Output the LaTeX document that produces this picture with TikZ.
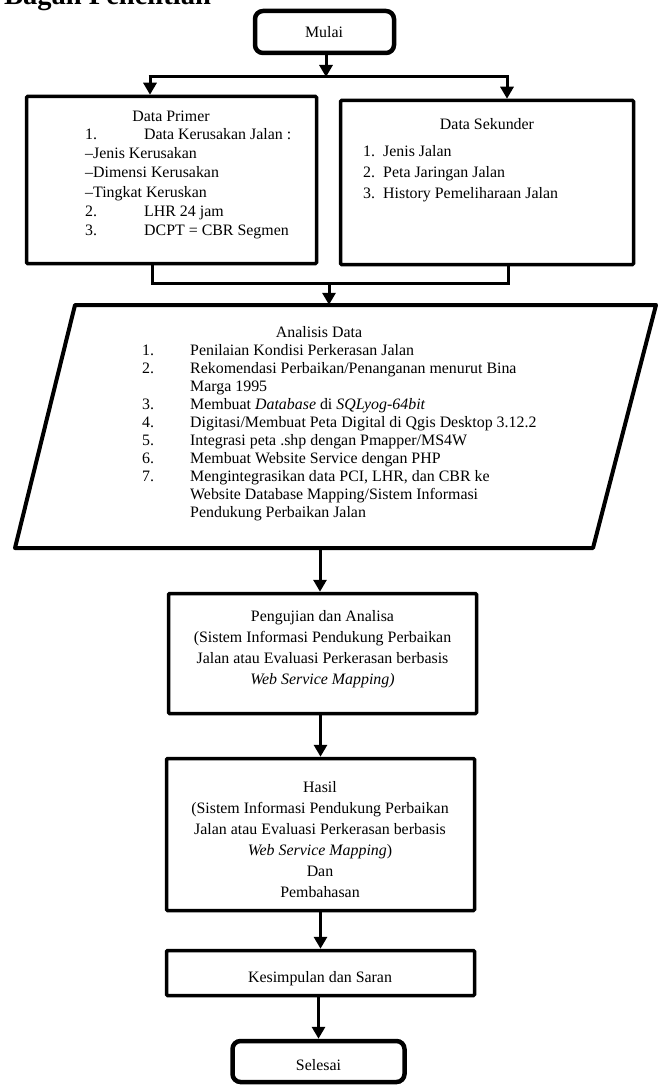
\documentclass[tikz,border=0pt]{standalone}
\usepackage{fontspec}
\setmainfont{Liberation Serif}
\usetikzlibrary{arrows.meta}
\begin{document}
\begin{tikzpicture}[x=1pt,y=-1pt,
  txt/.style={font=\fontsize{15.9pt}{19pt}\selectfont, inner sep=0pt, anchor=base west},
  ctr/.style={txt, anchor=base},
  box/.style={draw, line width=3.5pt, inner sep=0pt, rounded corners=1pt},
  term/.style={draw, line width=4.5pt, inner sep=0pt, rounded corners=8pt},
  ln/.style={line width=3pt},
  arr/.style={line width=3pt, -{Triangle[length=12pt,width=13pt]}}]
\useasboundingbox (0,0) rectangle (662,1086);

% heading (partly cut by the page edge)
\node[anchor=base west, inner sep=0pt, font=\bfseries\fontsize{28.5pt}{30pt}\selectfont] (judul) at (4,5) {Bagan Penelitian};

% boxes
\node[term, minimum width=139pt, minimum height=42pt] (mulai) at (324.5,32) {};
\node[box, minimum width=290pt, minimum height=167pt] (primer) at (171.5,180) {};
\node[box, minimum width=293pt, minimum height=164pt] (sekunder) at (487,182.5) {};
\node[minimum width=400pt, minimum height=243pt, inner sep=0pt] (analisis) at (320,426.5) {};
\draw[line width=4pt, line join=round] (75,305) -- (656,305) -- (593,548) -- (15,548) -- cycle;
\node[box, minimum width=308pt, minimum height=120pt] (uji) at (322.5,653.5) {};
\node[box, minimum width=308pt, minimum height=152pt] (hasil) at (320.5,834.5) {};
\node[box, minimum width=308pt, minimum height=45pt] (kes) at (320.5,973) {};
\node[term, minimum width=172pt, minimum height=41pt] (selesai) at (318.5,1061.5) {};

% texts
\node[ctr] (tmulai) at (324,38) {Mulai};

\node[ctr] (ph) at (171,122) {Data Primer};
\node[txt] (pn1) at (85,140) {1.};
\node[txt] (pt1) at (144,140) {Data Kerusakan Jalan :};
\node[txt] (pd1) at (85,159) {–Jenis Kerusakan};
\node[txt] (pd2) at (85,178) {–Dimensi Kerusakan};
\node[txt] (pd3) at (85,197) {–Tingkat Keruskan};
\node[txt] (pn2) at (85,216) {2.};
\node[txt] (pt2) at (144,216) {LHR 24 jam};
\node[txt] (pn3) at (85,235) {3.};
\node[txt] (pt3) at (144,235) {DCPT = CBR Segmen};

\node[ctr] (sh) at (487,130) {Data Sekunder};
\node[txt] (sn1) at (363,157) {1.};
\node[txt] (st1) at (383,157) {Jenis Jalan};
\node[txt] (sn2) at (363,178) {2.};
\node[txt] (st2) at (383,178) {Peta Jaringan Jalan};
\node[txt] (sn3) at (363,198) {3.};
\node[txt] (st3) at (383,198) {History Pemeliharaan Jalan};

\node[ctr] (ah) at (319,337) {Analisis Data};
\node[txt] (an1) at (142,355) {1.};
\node[txt] (at1) at (190,355) {Penilaian Kondisi Perkerasan Jalan};
\node[txt] (an2) at (142,373) {2.};
\node[txt] (at2) at (190,373) {Rekomendasi Perbaikan/Penanganan menurut Bina};
\node[txt] (at2b) at (190,391) {Marga 1995};
\node[txt] (an3) at (142,409) {3.};
\node[txt] (at3) at (190,409) {Membuat \textit{Database} di \textit{SQLyog-64bit}};
\node[txt] (an4) at (142,427) {4.};
\node[txt] (at4) at (190,427) {Digitasi/Membuat Peta Digital di Qgis Desktop 3.12.2};
\node[txt] (an5) at (142,445) {5.};
\node[txt] (at5) at (190,445) {Integrasi peta .shp dengan Pmapper/MS4W};
\node[txt] (an6) at (142,463) {6.};
\node[txt] (at6) at (190,463) {Membuat Website Service dengan PHP};
\node[txt] (an7) at (142,481) {7.};
\node[txt] (at7) at (190,481) {Mengintegrasikan data PCI, LHR, dan CBR ke};
\node[txt] (at7b) at (190,499) {Website Database Mapping/Sistem Informasi};
\node[txt] (at7c) at (190,517) {Pendukung Perbaikan Jalan};

\node[ctr] (u1) at (322.5,621) {Pengujian dan Analisa};
\node[ctr] (u2) at (322.5,642) {(Sistem Informasi Pendukung Perbaikan};
\node[ctr] (u3) at (322.5,663) {Jalan atau Evaluasi Perkerasan berbasis};
\node[ctr] (u4) at (322.5,684) {\textit{Web Service Mapping)}};

\node[ctr] (h1) at (320,792) {Hasil};
\node[ctr] (h2) at (320,813) {(Sistem Informasi Pendukung Perbaikan};
\node[ctr] (h3) at (320,834) {Jalan atau Evaluasi Perkerasan berbasis};
\node[ctr] (h4) at (320,855) {\textit{Web Service Mapping})};
\node[ctr] (h5) at (320,876) {Dan};
\node[ctr] (h6) at (320,897) {Pembahasan};

\node[ctr] (k1) at (320,982) {Kesimpulan dan Saran};
\node[ctr] (tselesai) at (318.5,1070) {Selesai};

% connectors
\coordinate (sL) at (150,77);
\coordinate (sR) at (507,77);
\coordinate (sM) at (326,77);
\draw[arr] (mulai.south -| sM) -- (sM);
\draw[ln] ([xshift=-1.5pt]sL) -- ([xshift=1.5pt]sR);
\draw[arr] ([yshift=-1.5pt]sL) -- (sL |- primer.north);
\draw[arr] ([yshift=-1.5pt]sR) -- (sR |- sekunder.north);

\coordinate (jL) at (152,283);
\coordinate (jR) at (508,283);
\coordinate (jM) at (329,283);
\draw[ln, line join=miter] (jL |- primer.south) -- (jL) -- (jR) -- (jR |- sekunder.south);
\draw[arr] (jM) -- (jM |- analisis.north);

\draw[arr] (analisis.south) -- (analisis.south |- uji.north);
\draw[arr] (hasil.north |- uji.south) -- (hasil.north);
\draw[arr] (kes.north |- hasil.south) -- (kes.north);
\draw[arr] (selesai.north |- kes.south) -- (selesai.north);
\end{tikzpicture}
\end{document}
